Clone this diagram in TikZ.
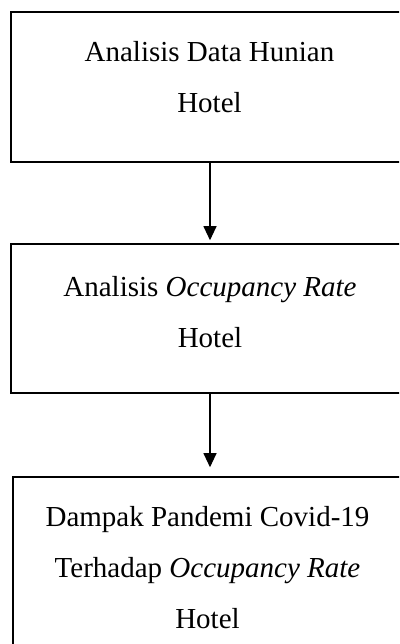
\documentclass[tikz,border=0pt]{standalone}
\usepackage{fontspec}
\setmainfont{Liberation Serif}
\usetikzlibrary{arrows.meta}
\begin{document}
\begin{tikzpicture}[x=1bp,y=-1bp,
  boxstyle/.style={draw=black,line width=1.6bp,rectangle,inner sep=0pt},
  txtstyle/.style={align=center,inner sep=0pt,font=\fontsize{29bp}{51bp}\selectfont,anchor=base},
  arrowstyle/.style={draw=black,line width=1.1bp,-{Triangle[width=13bp,length=14bp]}}]
\useasboundingbox (0,0) rectangle (399,644);
\clip (0,0) rectangle (399,644);
\node[boxstyle,minimum width=398bp,minimum height=150bp] (b1) at (210,87) {};
\node[boxstyle,minimum width=398bp,minimum height=149bp] (b2) at (210,318.5) {};
\node[boxstyle,minimum width=396bp,minimum height=183bp] (b3) at (211,568.5) {};
\node[txtstyle] (t1) at (209.5,113) {Analisis Data Hunian\\Hotel};
\node[txtstyle] (t2) at (210,347) {Analisis \textit{Occupancy Rate}\\Hotel};
\node[txtstyle] (t3) at (207.5,628) {Dampak Pandemi Covid-19\\Terhadap \textit{Occupancy Rate}\\Hotel};
\draw[arrowstyle,shorten >=3bp] (b1.south) -- (b2.north);
\draw[arrowstyle,shorten >=9bp] (b2.south) -- (b2.south |- b3.north);
\end{tikzpicture}
\end{document}
